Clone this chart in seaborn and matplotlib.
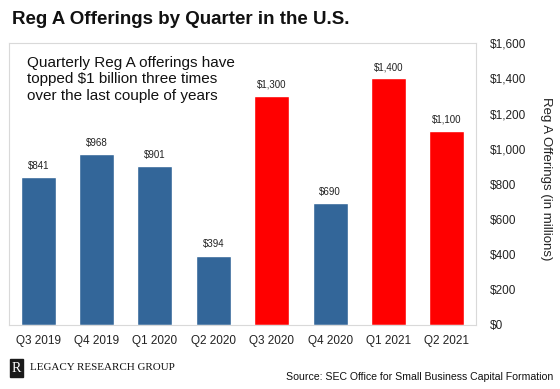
import matplotlib
matplotlib.use("Agg")
import matplotlib.pyplot as plt
import seaborn as sns
import pandas as pd

quarters = ["Q3 2019", "Q4 2019", "Q1 2020", "Q2 2020", "Q3 2020", "Q4 2020", "Q1 2021", "Q2 2021"]
values = [841, 968, 901, 394, 1300, 690, 1400, 1100]
labels = ["$841", "$968", "$901", "$394", "$1,300", "$690", "$1,400", "$1,100"]
highlight = [False, False, False, False, True, False, True, True]
yticks = [0, 200, 400, 600, 800, 1000, 1200, 1400, 1600]

sns.set_style("white")
plt.rcParams['font.family'] = ['Liberation Sans', 'DejaVu Sans']

BLUE = "#336699"
RED = "#ff0000"
df = pd.DataFrame({"q": quarters, "v": values,
                   "h": ["hi" if h else "lo" for h in highlight]})

fig = plt.figure(figsize=(5.6, 3.89), dpi=100)
ax = fig.add_axes([9/560, 1-325/389, 467/560, 282/389])
sns.barplot(data=df, x="q", y="v", hue="h", palette={"lo": BLUE, "hi": RED},
            dodge=False, width=0.6, legend=False, ax=ax, saturation=1)
ax.set_xlim(-0.5, 7.5)
ax.set_ylim(0, 1600)
ax.set_xlabel("")
ax.set_ylabel("")
for i, (v, l) in enumerate(zip(values, labels)):
    ax.text(i, v + 35, l, ha="center", va="bottom", fontsize=7, color="#222222")

ax.yaxis.tick_right()
ax.set_yticks(yticks)
ax.set_yticklabels([f"${t:,}" for t in yticks], fontsize=8.5, color="#222222")
ax.tick_params(axis="y", length=0, pad=10)
ax.tick_params(axis="x", length=0, pad=7, labelsize=8.5, labelcolor="#222222")
for s in ax.spines.values():
    s.set_color("#d9d9d9")
    s.set_linewidth(0.8)

fig.text(546/560, 1-179/389, "Reg A Offerings (in millions)", rotation=-90,
         ha="center", va="center", fontsize=9.5, color="#222222")

fig.text(12/560, 1-19/389, "Reg A Offerings by Quarter in the U.S.",
         fontsize=13.5, fontweight="bold", ha="left", va="center", color="#111111")

ax.text(0.038, 0.955, "Quarterly Reg A offerings have\ntopped $1 billion three times\nover the last couple of years",
        transform=ax.transAxes, ha="left", va="top", fontsize=11, color="#111111",
        linespacing=1.25)

fig.text(12/560, 1-368/389, "R", fontsize=10, ha="left", va="center", color="white",
         family=['Liberation Serif', 'DejaVu Serif'],
         bbox=dict(boxstyle="square,pad=0.15", fc="#1a1a1a", ec="#1a1a1a"))
fig.text(30/560, 1-368/389, "LEGACY RESEARCH GROUP", fontsize=7.9, ha="left", va="center",
         color="#111111", family=['Liberation Serif', 'DejaVu Serif'])
fig.text(553/560, 1-377/389, "Source: SEC Office for Small Business Capital Formation",
         fontsize=7.6, ha="right", va="center", color="#111111")

fig.savefig("out.png", dpi=100)
